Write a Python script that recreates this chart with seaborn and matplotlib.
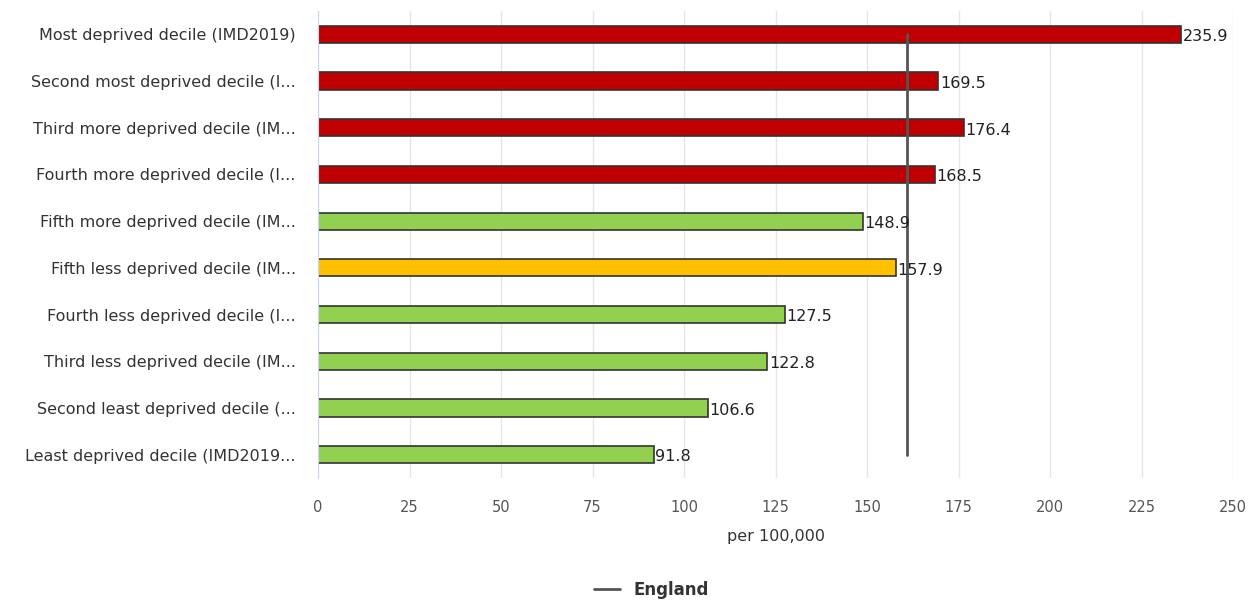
import seaborn as sns
import matplotlib.pyplot as plt

categories = [
    'Most deprived decile (IMD2019)',
    'Second most deprived decile (I...',
    'Third more deprived decile (IM...',
    'Fourth more deprived decile (I...',
    'Fifth more deprived decile (IM...',
    'Fifth less deprived decile (IM...',
    'Fourth less deprived decile (I...',
    'Third less deprived decile (IM...',
    'Second least deprived decile (...',
    'Least deprived decile (IMD2019...',
]
values = [235.9, 169.5, 176.4, 168.5, 148.9, 157.9, 127.5, 122.8, 106.6, 91.8]
bar_colors = ['#C00000', '#C00000', '#C00000', '#C00000', '#92D050',
              '#FFC000', '#92D050', '#92D050', '#92D050', '#92D050']
england = 160.8

sns.set_style('white')
plt.rcParams['font.family'] = ['DejaVu Sans']

fig = plt.figure(figsize=(12.6, 6.02), dpi=100)
ax = fig.add_axes([0.2524, 0.206, 0.7262, 0.7757])

sns.barplot(x=values, y=categories, hue=categories, palette=bar_colors,
            legend=False, width=0.37, edgecolor='#333333', linewidth=1.2,
            saturation=1, ax=ax)

# England reference line
ax.plot([england, england], [0, len(categories) - 1], color='#555555',
        lw=2, label='England', zorder=3)

for i, v in enumerate(values):
    ax.text(v + 0.4, i + 0.05, f'{v:.1f}', va='center', ha='left', fontsize=11.5,
            color='#222222', zorder=4)

ax.set_xlim(0, 250)
ax.set_ylim(len(categories) - 0.5, -0.5)
ax.set_xticks(range(0, 251, 25))
ax.grid(axis='x', color='#e6e6e6', lw=1)
ax.set_axisbelow(True)
for s in ['top', 'right', 'bottom']:
    ax.spines[s].set_visible(False)
ax.spines['left'].set_color('#ccd6eb')
ax.tick_params(axis='x', length=0, pad=16, labelsize=10.5, labelcolor='#555555')
ax.tick_params(axis='y', length=0, pad=16, labelsize=11.5, labelcolor='#333333')
ax.set_xlabel('per 100,000', fontsize=11.5, color='#333333', labelpad=10)
ax.set_ylabel('')

fig.legend(loc='center', bbox_to_anchor=(0.517, 0.02), frameon=False,
           handlelength=1.6, prop={'size': 12, 'weight': 'bold'},
           labelcolor='#333333')

fig.savefig('out.png', dpi=100)
